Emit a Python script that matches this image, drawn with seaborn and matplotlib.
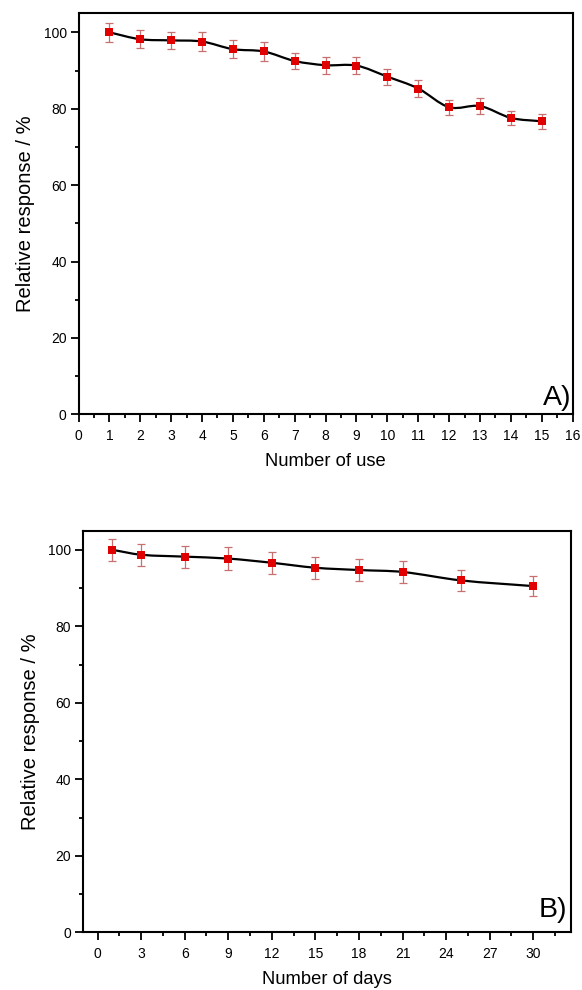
import numpy as np
import pandas as pd
import matplotlib
matplotlib.use("Agg")
import matplotlib.pyplot as plt
import seaborn as sns
from matplotlib.ticker import MultipleLocator
from matplotlib.path import Path
from matplotlib.patches import PathPatch

sns.set_theme(style="ticks", rc={"text.color": "black", "axes.labelcolor": "black",
                                 "xtick.color": "black", "ytick.color": "black"})
plt.rcParams['font.family'] = ['Liberation Sans', 'DejaVu Sans']

# Panel A: repeated use
uses = [1, 2, 3, 4, 5, 6, 7, 8, 9, 10, 11, 12, 13, 14, 15]
resp_a = [100, 98.2, 97.9, 97.6, 95.6, 95.0, 92.5, 91.4, 91.3, 88.4, 85.3, 80.4, 80.7, 77.6, 76.7]
err_a = [2.5, 2.3, 2.3, 2.5, 2.3, 2.4, 2.2, 2.2, 2.3, 2.1, 2.3, 2.0, 2.0, 1.9, 2.0]

# Panel B: storage time
days = [1, 3, 6, 9, 12, 15, 18, 21, 25, 30]
resp_b = [100, 98.7, 98.2, 97.7, 96.6, 95.3, 94.7, 94.2, 92.0, 90.5]
err_b = [2.9, 2.9, 2.9, 2.9, 2.9, 2.9, 2.8, 2.8, 2.7, 2.7]

xticks_b = [0, 3, 6, 9, 12, 15, 18, 21, 24, 27, 30]

df_a = pd.DataFrame({"x": uses, "y": resp_a, "e": err_a})
df_b = pd.DataFrame({"x": days, "y": resp_b, "e": err_b})

fig = plt.figure(figsize=(5.82, 9.9), dpi=100)
ax1 = fig.add_axes([0.1349, 0.5815, 0.8491, 0.4051])
ax2 = fig.add_axes([0.1426, 0.0583, 0.8385, 0.4057])


def smooth_path(x, y):
    """Cubic Hermite curve through the data points, drawn as Bezier segments."""
    x = np.asarray(x, float)
    y = np.asarray(y, float)
    n = len(x)
    m = np.zeros(n)
    m[0] = (y[1] - y[0]) / (x[1] - x[0])
    m[-1] = (y[-1] - y[-2]) / (x[-1] - x[-2])
    for i in range(1, n - 1):
        m[i] = (y[i + 1] - y[i - 1]) / (x[i + 1] - x[i - 1])
    verts = [(x[0], y[0])]
    codes = [Path.MOVETO]
    for i in range(n - 1):
        h = x[i + 1] - x[i]
        verts += [(x[i] + h / 3, y[i] + m[i] * h / 3),
                  (x[i + 1] - h / 3, y[i + 1] - m[i + 1] * h / 3),
                  (x[i + 1], y[i + 1])]
        codes += [Path.CURVE4] * 3
    return Path(verts, codes)


def draw(ax, df, xlim, xmaj, xmin_, xlabel, tag, tag_xy):
    ax.add_patch(PathPatch(smooth_path(df["x"], df["y"]), facecolor="none",
                           edgecolor="black", lw=1.6, zorder=2))
    ax.errorbar(df["x"], df["y"], yerr=df["e"], fmt="none", ecolor="#c87070",
                elinewidth=0.9, capsize=3.2, capthick=0.9, zorder=3)
    sns.scatterplot(data=df, x="x", y="y", ax=ax, marker="s", s=30, color="#e00000",
                    edgecolor="#e00000", linewidth=0, zorder=4)
    ax.set_xlim(*xlim)
    ax.set_ylim(0, 105)
    ax.xaxis.set_major_locator(MultipleLocator(xmaj))
    ax.xaxis.set_minor_locator(MultipleLocator(xmin_))
    ax.yaxis.set_major_locator(MultipleLocator(20))
    ax.yaxis.set_minor_locator(MultipleLocator(10))
    ax.tick_params(which="major", direction="out", length=6, width=1.3, labelsize=10,
                   colors="black")
    ax.tick_params(axis="x", which="major", pad=4.5)
    ax.tick_params(axis="y", which="major", pad=2.5)
    ax.tick_params(which="minor", direction="out", length=3, width=1.3)
    ax.tick_params(top=False, right=False)
    for s in ax.spines.values():
        s.set_linewidth(1.5)
        s.set_color("black")
    ax.set_xlabel(xlabel, fontsize=13.2, labelpad=7.5)
    ax.set_ylabel("Relative response / %", fontsize=14.5, labelpad=6)
    ax.text(tag_xy[0], tag_xy[1], tag, transform=ax.transAxes, ha="right",
            va="baseline", fontsize=20.5)


draw(ax1, df_a, (0, 16), 1, 0.5, "Number of use", "A)", (0.997, 0.023))
draw(ax2, df_b, (-1, 32.6), 3, 1.5, "Number of days", "B)", (0.992, 0.038))
ax2.set_xticks(xticks_b)

fig.savefig("out.png", dpi=100)
